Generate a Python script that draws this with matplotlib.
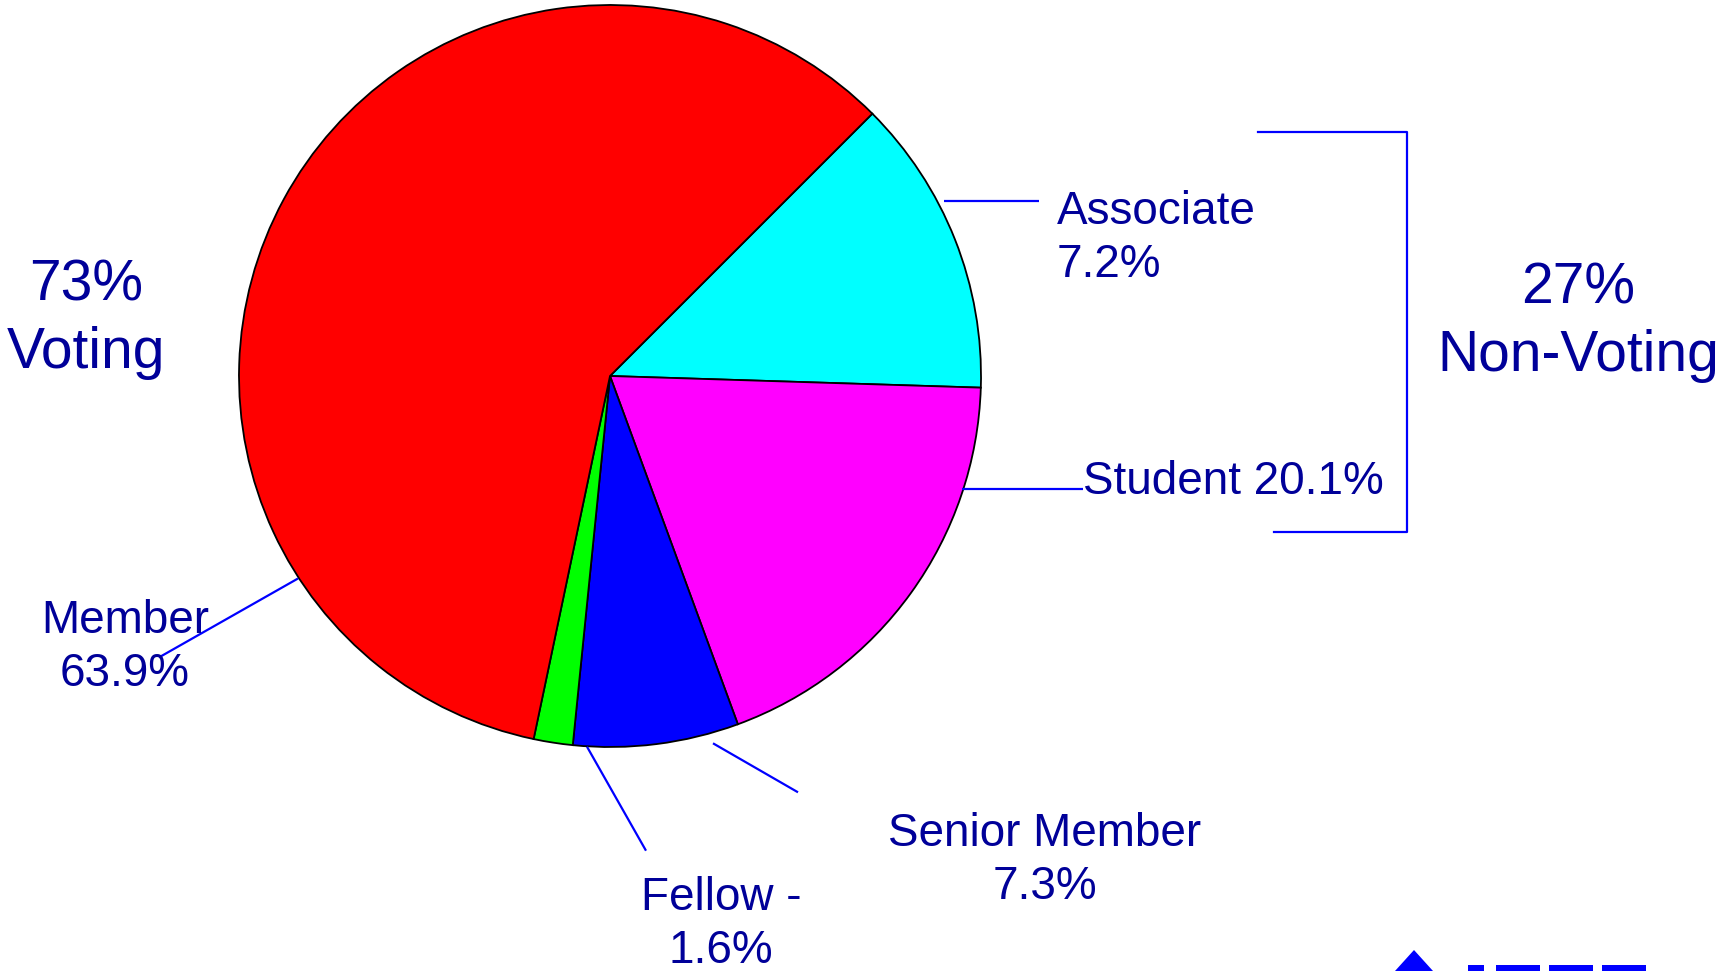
import matplotlib
matplotlib.use("Agg")
import matplotlib.pyplot as plt
from matplotlib.patches import Polygon, Rectangle

# ---- data (slice sizes as drawn in the picture, clockwise from 45 deg) ----
categories = ["Associate", "Student", "Senior Member", "Fellow", "Member"]
slice_values = [13.0, 18.9, 7.2, 1.7, 59.2]
slice_colors = ["#00FFFF", "#FF00FF", "#0000FF", "#00FF00", "#FF0000"]
label_texts = ["Associate\n7.2%", "Student 20.1%", "Senior Member\n7.3%",
               "Fellow -\n1.6%", "Member\n63.9%"]
voting_text = "73%\nVoting"
nonvoting_text = "27%\nNon-Voting"

W, H = 1718, 971
TXT = "#000099"
LINE = "#0000FF"
plt.rcParams['font.family'] = ['Liberation Sans', 'DejaVu Sans']

fig = plt.figure(figsize=(W / 100, H / 100), dpi=100)
ax = fig.add_axes([0, 0, 1, 1])

def Y(y):
    return H - y

ax.pie(slice_values, colors=slice_colors, startangle=45, counterclock=False,
       center=(610, Y(376)), radius=371, frame=True,
       wedgeprops=dict(edgecolor='black', linewidth=1.3))
ax.set_xlim(0, W)
ax.set_ylim(0, H)
ax.set_aspect('equal')
ax.axis('off')

# leader lines
lw = 1.6
leaders = [((944, 200.5), (1039, 200.5)),
           ((962, 488.7), (1083, 488.7)),
           ((298, 578.5), (159, 657.4)),
           ((587, 746.7), (646, 850.7)),
           ((713, 743.3), (798, 792.3))]
for (x0, y0), (x1, y1) in leaders:
    ax.plot([x0, x1], [Y(y0), Y(y1)], color=LINE, lw=lw, solid_capstyle='butt')

# bracket
ax.plot([1258, 1407, 1407, 1274], [Y(132), Y(132), Y(532), Y(532)],
        color=LINE, lw=lw)

# labels
fs = 33
ls = 1.28
ax.text(1057, Y(238.5), label_texts[0], fontsize=fs, color=TXT, ha='left', va='center',
        linespacing=ls)
ax.text(1083, Y(482), label_texts[1], fontsize=fs, color=TXT, ha='left', va='center')
ax.text(1045, Y(860.5), label_texts[2], fontsize=fs, color=TXT, ha='center', va='center',
        linespacing=ls, multialignment='center')
ax.text(721, Y(924.5), label_texts[3], fontsize=fs, color=TXT, ha='center', va='center',
        linespacing=ls, multialignment='center')
ax.text(125, Y(647.5), label_texts[4], fontsize=fs, color=TXT, ha='center', va='center',
        linespacing=ls, multialignment='center')

bfs = 41
bls = 1.31
ax.text(86, Y(319), voting_text, fontsize=bfs, color=TXT, ha='center', va='center',
        linespacing=bls, multialignment='center')
ax.text(1578, Y(322), nonvoting_text, fontsize=bfs, color=TXT, ha='center', va='center',
        linespacing=bls, multialignment='center')

# partially visible logo at bottom right
ax.add_patch(Polygon([(1395, Y(971)), (1414, Y(950)), (1433, Y(971))],
                     closed=True, color=LINE, lw=0))
for x0, x1 in [(1468, 1484), (1496, 1540), (1549, 1593), (1602, 1646)]:
    ax.add_patch(Rectangle((x0, Y(971)), x1 - x0, 5.5, color=LINE, lw=0))

fig.savefig("out.png", dpi=100, facecolor='white')
